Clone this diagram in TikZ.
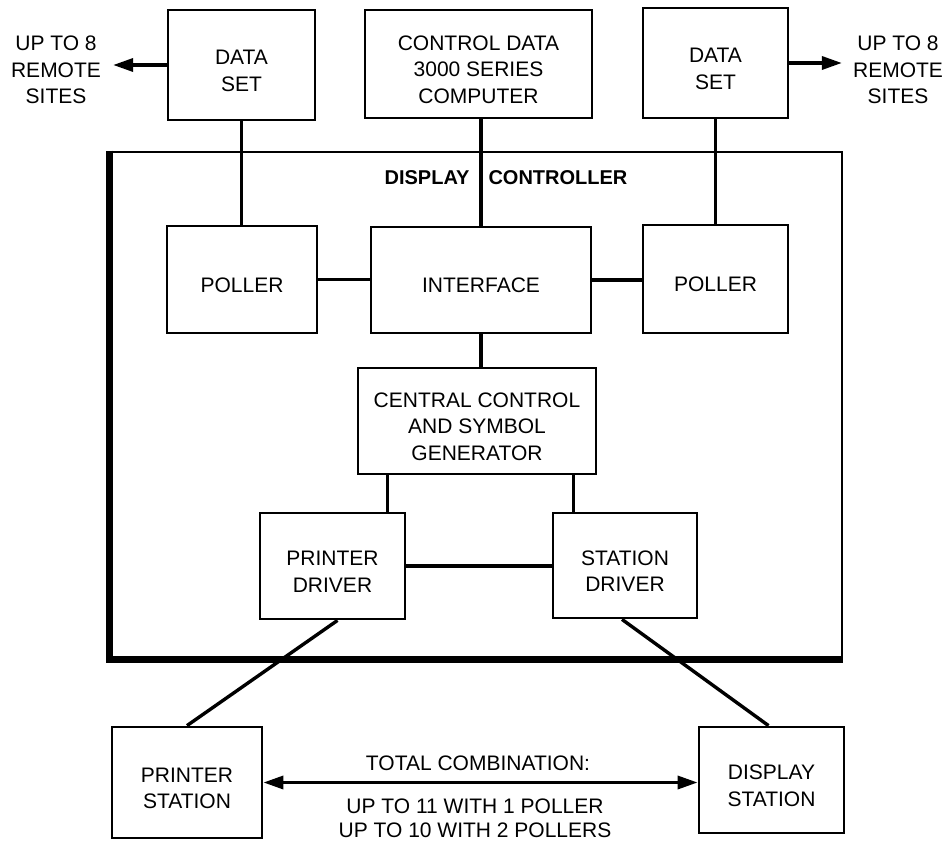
\documentclass[tikz,border=0pt]{standalone}
\usepackage{fontspec}
\setmainfont{Liberation Sans}
\usetikzlibrary{arrows.meta}
\newcommand{\topgap}{\rule{0pt}{26pt}}

\begin{document}
\begin{tikzpicture}[x=1pt,y=-1pt,
  box/.style={draw, line width=2.8pt, inner sep=0pt, align=center, font=\fontsize{21}{26.5}\selectfont},
  txt/.style={inner sep=2pt, align=center, font=\fontsize{21}{26.5}\selectfont},
  link/.style={line width=3.4pt},
  onearrow/.style={link, -{Triangle[length=20pt,width=13pt]}},
  twoarrow/.style={link, {Triangle[length=20pt,width=13pt]}-{Triangle[length=20pt,width=13pt]}}]
\useasboundingbox (0,0) rectangle (945,842);

% the controller frame, thick on the left and bottom
\node[draw, line width=2.6pt, inner sep=0pt, minimum width=731pt, minimum height=506pt] (ctrl) at (476.5,405) {};
\draw[line width=7pt] (ctrl.north west) -- (ctrl.south west) -- (ctrl.south east);
\node[font=\bfseries\fontsize{20}{24}\selectfont, anchor=east] (dispword) at (473,178) {DISPLAY};
\node[font=\bfseries\fontsize{20}{24}\selectfont, anchor=west] (ctrlword) at (485,178) {CONTROLLER};

% top row
\node[box, minimum width=147pt, minimum height=110pt] (dsl) at (241.5,65) {\topgap DATA\\SET};
\node[box, minimum width=227pt, minimum height=108pt] (comp) at (478.5,64) {\topgap CONTROL DATA\\3000 SERIES\\COMPUTER};
\node[box, minimum width=145pt, minimum height=110pt] (dsr) at (715.5,63) {\topgap DATA\\SET};
\node[txt, inner xsep=12pt] (sitesl) at (56,70) {UP TO 8\\REMOTE\\SITES};
\node[txt, inner xsep=11pt] (sitesr) at (898,70) {UP TO 8\\REMOTE\\SITES};

% inside the controller
\node[box, minimum width=150pt, minimum height=107pt] (pollerl) at (242,279.5) {\topgap POLLER};
\node[box, minimum width=220pt, minimum height=106pt] (iface) at (481,280) {\topgap INTERFACE};
\node[box, minimum width=145pt, minimum height=108pt] (pollerr) at (715.5,279) {\topgap POLLER};
\node[box, minimum width=238pt, minimum height=106pt] (ccsg) at (477,421) {\topgap CENTRAL CONTROL\\AND SYMBOL\\GENERATOR};
\node[box, minimum width=145pt, minimum height=106pt] (prdrv) at (332.5,566) {\topgap PRINTER\\DRIVER};
\node[box, minimum width=144pt, minimum height=105pt] (stdrv) at (625,565.5) {\topgap STATION\\DRIVER};

% stations below
\node[box, minimum width=150pt, minimum height=111pt] (prst) at (187,782.5) {\topgap PRINTER\\STATION};
\node[box, minimum width=145pt, minimum height=106pt] (dispst) at (771.5,780) {\topgap DISPLAY\\STATION};
\node[txt] (total) at (478,763) {TOTAL COMBINATION:};
\node[txt, font=\fontsize{21}{24}\selectfont] (limits) at (475,818) {UP TO 11 WITH 1 POLLER\\UP TO 10 WITH 2 POLLERS};

% connections
\draw[onearrow] (dsl.west) -- (dsl.west -| sitesl.east);
\draw[onearrow] (dsr.east) -- (dsr.east -| sitesr.west);
\draw[link] (dsl.south) -- (dsl.south |- pollerl.north);
\draw[link] (iface.north) -- (iface.north |- comp.south);
\draw[link] (dsr.south) -- (dsr.south |- pollerr.north);
\draw[link] (pollerl.east) -- (pollerl.east -| iface.west);
\draw[link] (iface.east) -- (iface.east -| pollerr.west);
\draw[link] (iface.south) -- (iface.south |- ccsg.north);
\draw[link] (ccsg.south west) ++(31,0) coordinate (ccl) -- (ccl |- prdrv.north);
\draw[link] (ccsg.south east) ++(-24,0) coordinate (ccr) -- (ccr |- stdrv.north);
\draw[link] (prdrv.east) -- (prdrv.east -| stdrv.west);
\draw[link] ([xshift=5pt]prdrv.south) -- (prst.north);
\draw[link] ([xshift=-3pt]stdrv.south) -- ([xshift=-3pt]dispst.north);
\draw[twoarrow] (prst.east) -- (prst.east -| dispst.west);
\end{tikzpicture}
\end{document}
